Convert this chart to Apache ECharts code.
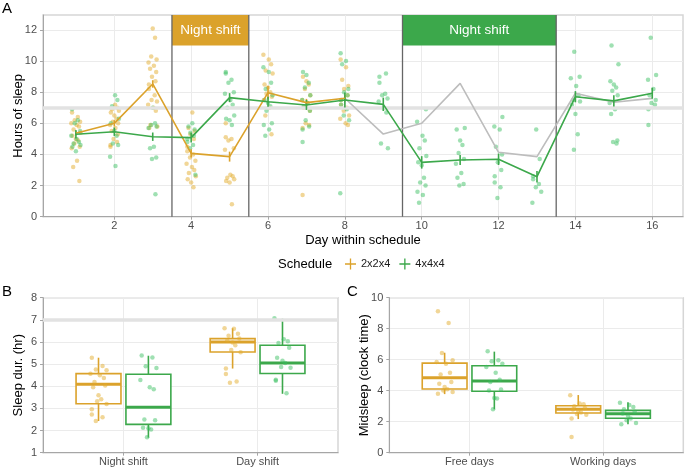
<!DOCTYPE html>
<html><head><meta charset="utf-8">
<script src="https://cdn.jsdelivr.net/npm/echarts@6/dist/echarts.min.js"></script>
<style>html,body{margin:0;padding:0;background:#fff}#c{width:685px;height:468px}</style>
</head><body><div id="c"></div>
<script>
// ---------- DATA ----------
const schedules = ['2x2x4', '4x4x4'];
const days = [1,2,3,4,5,6,7,8,9,10,11,12,13,14,15,16];
const dayTicks = [2,4,6,8,10,12,14,16];
const hourTicks = [0,2,4,6,8,10,12];
// mean hours of sleep per day and standard errors
const mean2x2x4 = [5.36,6.0,8.53,4.07,3.86,7.97,7.33,7.61];
const se2x2x4   = [0.15,0.2,0.24,0.27,0.32,0.43,0.24,0.2];
const mean4x4x4 = [5.3,5.46,5.14,5.08,7.65,7.39,7.18,7.5,7.22,3.49,3.64,3.69,2.57,7.71,7.44,7.93];
const se4x4x4   = [0.27,0.27,0.27,0.32,0.29,0.32,0.32,0.48,0.43,0.4,0.32,0.37,0.37,0.36,0.36,0.35];
// 2x2x4 pattern repeated over days 8..16 (grey reference)
const refDays = [8,9,10,11,12,13,14,15,16];
const ref2x2x4 = [7.61,5.31,6.0,8.57,4.14,3.86,7.93,7.35,7.6];
// night-shift spans [start, end] per schedule
const nightSpans = [[3.5,5.5],[9.5,13.5]];
const nightLabel = 'Night shift';
// individual observations per day
const pts2x2x4 = [
  [6.7,6.4,6.2,6.1,6.0,5.9,5.8,5.6,5.4,5.2,5.0,4.9,4.7,4.5,4.4,3.6,3.2,2.3],
  [7.2,7.0,6.9,6.8,6.7,6.5,6.3,6.1,6.0,5.9,5.7,5.5,5.3,5.0,4.8,4.6,4.5],
  [12.1,11.5,10.3,10.1,9.9,9.7,9.5,9.3,9.0,8.7,8.5,8.2,7.8,7.5,7.4,7.2,7.0,6.8,5.9,5.8,5.7],
  [6.7,5.7,5.5,5.3,5.0,4.5,4.2,4.0,3.8,3.6,3.4,3.2,3.0,2.8,2.6,2.4,2.2,1.9],
  [6.0,5.1,5.0,4.9,4.4,4.3,2.7,2.6,2.5,2.4,2.3,2.2,0.8],
  [10.4,10.1,9.8,9.4,9.2,8.5,8.3,8.0,7.9,7.7,7.5,7.0,6.5,5.3],
  [9.0,8.7,8.5,8.2,7.8,7.5,7.3,7.0,6.8,6.0,5.9,5.7,1.4],
  [10.1,9.6,8.8,8.4,8.2,7.8,7.5,7.2,7.0,6.8,6.5,6.3,6.0,5.9]
];
const pts4x4x4 = [
  [6.9,6.2,6.0,5.5,5.2,5.0,4.8,4.7,4.6,4.5,4.2],
  [7.8,7.5,7.1,6.3,6.0,5.5,5.2,4.7,4.6,3.85,3.25],
  [7.0,6.0,5.9,5.8,5.7,4.5,4.4,3.8,3.7,1.45],
  [6.0,5.8,5.6,5.4,5.2,5.0,4.8,4.6,4.4,2.7],
  [9.3,9.2,8.8,8.6,8.0,7.9,7.5,7.2,7.0,6.5,6.3,6.2,5.9],
  [9.6,9.3,8.6,8.2,7.8,7.5,7.3,7.1,6.8,6.0,5.9,5.6,5.2],
  [9.3,9.1,8.6,8.3,7.8,7.5,7.3,7.1,6.8,6.2,5.8,5.6,4.8],
  [10.5,10.0,9.8,8.2,8.0,7.8,7.5,7.2,6.9,6.5,6.2,1.5],
  [9.2,9.0,8.6,7.9,7.8,7.6,7.4,7.0,6.7,4.7,4.4],
  [6.9,6.1,5.2,4.9,4.4,3.9,3.5,3.3,2.5,2.2,2.0,1.6,1.4,0.9],
  [5.7,5.6,4.9,4.6,4.1,3.7,3.4,2.8,2.5,2.1,2.0],
  [6.4,5.8,5.6,4.5,4.0,3.5,3.0,2.6,2.2,1.9,1.2],
  [5.6,3.7,2.6,2.4,2.1,1.9,1.6,0.9],
  [10.6,9.0,8.9,8.4,7.8,7.5,7.4,7.2,6.6,5.3,4.3],
  [11.0,9.8,8.7,8.5,8.3,8.1,7.8,7.3,6.9,6.6,4.9,4.8,4.7],
  [11.5,9.1,8.8,8.2,7.8,7.5,7.3,7.2,6.9,5.9]
];
// panel B: sleep duration by shift type  [min, q1, median, q3, max]
const catsB = ['Night shift', 'Day shift'];
const durTicks = [1,2,3,4,5,6,7,8];
const boxB2x2x4 = [[2.43,3.21,4.09,4.57,5.29],[4.8,5.55,6.0,6.15,6.62]];
const boxB4x4x4 = [[1.68,2.28,3.05,4.54,5.38],[3.66,4.58,5.05,5.85,7.05]];
const ptsB2x2x4 = [[5.29,4.92,4.76,4.72,4.57,4.5,4.37,4.19,4.04,3.96,3.59,3.41,3.32,3.2,2.96,2.72,2.6,2.43],
                   [6.62,6.6,6.37,6.28,6.16,6.07,5.98,5.85,5.64,5.54,4.8,4.55,4.22,4.16]];
const ptsB4x4x4 = [[5.39,5.3,4.9,4.82,4.28,3.96,3.86,2.5,2.46,2.13,2.1,2.05,1.7],
                   [7.07,6.12,6.03,5.95,5.74,5.29,5.15,5.05,4.87,4.84,4.3,4.25,3.68]];
// panel C: midsleep by day type
const catsC = ['Free days', 'Working days'];
const midTicks = [0,2,4,6,8,10];
const boxC2x2x4 = [[3.78,4.11,4.84,5.78,6.45],[2.17,2.56,2.8,3.03,3.72]];
const boxC4x4x4 = [[2.8,3.96,4.62,5.61,6.52],[1.83,2.22,2.52,2.73,3.25]];
const ptsC2x2x4 = [[9.12,8.37,6.43,5.96,5.85,5.74,5.16,5.05,4.56,4.45,4.24,4.09,4.02,3.92,3.81],
                   [3.7,3.18,3.12,3.0,2.88,2.78,2.7,2.6,2.5,2.45,2.2,1.01]];
const ptsC4x4x4 = [[6.54,5.96,5.9,5.74,5.53,5.16,4.71,4.56,4.07,4.02,3.53,3.49,2.8],
                   [3.22,3.08,2.95,2.8,2.64,2.53,2.38,2.2,2.1,1.92,1.84]];
const sleepTarget = 7;

// ---------- STYLE ----------
const FONT = '"Liberation Sans", Arial, sans-serif';
const ORANGE = '#DBA22B', GREEN = '#3CA84B';
const ORANGE_PT = 'rgba(226,172,45,0.62)', GREEN_PT = 'rgba(55,190,95,0.6)';
const GREY_LINE = '#bdbdbd';
const GRID_C = '#ebebeb';
const TICK_C = '#4d4d4d';
const JA = [-0.1,0.05,-0.03,0.11,-0.12,0.02,0.08,-0.06,0.12,-0.09,0.0,0.06,-0.04,0.1,-0.11,0.03,-0.07,0.09,-0.02,0.07,-0.1];
const JB = [-0.05,0.03,-0.02,0.06,-0.06,0.01,0.04,-0.03,0.05,-0.04,0.0,0.02,-0.01,0.06,-0.05];
const A_YMAX = 12.96, HDR_Y = 11;
const BOX_W = 0.335, DODGE = 0.186;

function valAxis(gi, min, max, extra) {
  return Object.assign({
    type: 'value', gridIndex: gi, min: min, max: max,
    axisLine: {show: true, onZero: false, lineStyle: {color: '#a6a6a6', width: 1}},
    axisTick: {show: true, length: 3, lineStyle: {color: '#a6a6a6'}},
    axisLabel: {color: TICK_C, fontSize: 11, fontFamily: FONT},
    splitLine: {show: true, lineStyle: {color: GRID_C, width: 1}},
    nameTextStyle: {color: '#000', fontSize: 13, fontFamily: FONT},
    nameLocation: 'middle', nameMoveOverlap: false
  }, extra || {});
}
function withCustom(ax, vals, fmt) {
  ax.axisLabel.customValues = vals;
  ax.axisTick.customValues = vals;
  if (fmt) ax.axisLabel.formatter = fmt;
  return ax;
}

const xA = withCustom(valAxis(0, 0.144, 16.8, {name: 'Day within schedule', nameGap: 17}), dayTicks);
xA.axisLabel.margin = 4;
const yA = withCustom(valAxis(0, 0, A_YMAX, {name: 'Hours of sleep', nameGap: 18.5}), hourTicks);
yA.axisLabel.margin = 6;
const xB = withCustom(valAxis(1, 0.4, 2.6), [1,2], v => catsB[Math.round(v) - 1]);
xB.axisLabel.margin = 4;
const yB = withCustom(valAxis(1, 1, 8, {name: 'Sleep dur. (hr)', nameGap: 18.5}), durTicks);
yB.axisLabel.margin = 6;
const xC = withCustom(valAxis(2, 0.4, 2.6), [1,2], v => catsC[Math.round(v) - 1]);
xC.axisLabel.margin = 4;
const yC = withCustom(valAxis(2, 0, 10, {name: 'Midsleep (clock time)', nameGap: 18.8}), midTicks);
yC.axisLabel.margin = 6;

function gridDef(l, t, w, h) {
  return {left: l, top: t, width: w, height: h, show: true, borderColor: '#d6d6d6', borderWidth: 1.5,
          backgroundColor: 'transparent', containLabel: false, outerBoundsMode: 'none'};
}

function jitterA(arr) {
  return arr.flatMap((vals, di) => vals.map((v, j) => [days[di] + JA[(j + di * 5) % JA.length], v]));
}
function jitterBox(arr, off) {
  return arr.flatMap((vals, ci) => vals.map((v, j) => [ci + 1 + off + JB[(j + ci * 4) % JB.length], v]));
}

function bandSeries(gi) {
  return {type: 'line', xAxisIndex: gi, yAxisIndex: gi, data: [], z: 1, silent: true,
    markLine: {silent: true, symbol: 'none', label: {show: false},
      lineStyle: {color: '#e2e2e2', width: 3.5, type: 'solid'}, data: [{yAxis: sleepTarget}]}};
}

function boxSeries(gi, name, boxes, off, color) {
  return {type: 'custom', name: name, xAxisIndex: gi, yAxisIndex: gi, z: 3, silent: true,
    data: boxes.map((b, i) => [i + 1].concat(b)),
    renderItem(params, api) {
      const cx = api.value(0) + off;
      const lo = api.value(1), q1 = api.value(2), md = api.value(3), q3 = api.value(4), hi = api.value(5);
      const tl = api.coord([cx - BOX_W / 2, q3]), br = api.coord([cx + BOX_W / 2, q1]);
      const m = api.coord([cx, md]), t = api.coord([cx, hi]), b = api.coord([cx, lo]);
      const p3 = api.coord([cx, q3]), p1 = api.coord([cx, q1]);
      return {type: 'group', children: [
        {type: 'line', shape: {x1: t[0], y1: t[1], x2: p3[0], y2: p3[1]}, style: {stroke: color, lineWidth: 1.6}},
        {type: 'line', shape: {x1: p1[0], y1: p1[1], x2: b[0], y2: b[1]}, style: {stroke: color, lineWidth: 1.6}},
        {type: 'rect', shape: {x: tl[0], y: tl[1], width: br[0] - tl[0], height: br[1] - tl[1]},
          style: {fill: '#fff', stroke: color, lineWidth: 1.6}},
        {type: 'line', shape: {x1: tl[0], y1: m[1], x2: br[0], y2: m[1]}, style: {stroke: color, lineWidth: 3}}
      ]};
    }};
}

function scatter(gi, name, data, color) {
  return {type: 'scatter', name: name, xAxisIndex: gi, yAxisIndex: gi, data: data, z: 4, silent: true,
    symbolSize: 4.5, itemStyle: {color: color, borderWidth: 0}};
}

function errSeries(name, means, ses, color) {
  return {type: 'custom', name: name + ' se', xAxisIndex: 0, yAxisIndex: 0, z: 6, silent: true,
    data: means.map((m, i) => [days[i], m, ses[i]]),
    renderItem(params, api) {
      const x = api.value(0), m = api.value(1), s = api.value(2);
      const a = api.coord([x, m + s]), b = api.coord([x, m - s]);
      return {type: 'line', shape: {x1: a[0], y1: a[1], x2: b[0], y2: b[1]}, style: {stroke: color, lineWidth: 1.6}};
    }};
}

function lineSeries(name, xs, ys, color, z) {
  return {type: 'line', name: name, xAxisIndex: 0, yAxisIndex: 0, z: z, silent: true, color: color,
    data: ys.map((v, i) => [xs[i], v]), symbol: 'none', lineStyle: {color: color, width: 1.6}};
}

const shiftSeries = {
  type: 'custom', xAxisIndex: 0, yAxisIndex: 0, z: 5, silent: true,
  data: nightSpans.map((s, i) => [s[0], s[1], i]),
  renderItem(params, api) {
    const x0 = api.value(0), x1 = api.value(1), idx = api.value(2);
    const color = idx === 0 ? ORANGE : GREEN;
    const tl = api.coord([x0, A_YMAX]), br = api.coord([x1, HDR_Y]);
    const bot0 = api.coord([x0, 0]), bot1 = api.coord([x1, 0]);
    return {type: 'group', children: [
      {type: 'rect', shape: {x: tl[0], y: tl[1], width: br[0] - tl[0], height: br[1] - tl[1]}, style: {fill: color}},
      {type: 'text', x: (tl[0] + br[0]) / 2, y: (tl[1] + br[1]) / 2,
        style: {text: nightLabel, fill: '#fff', fontSize: 13.5, fontFamily: FONT, align: 'center', verticalAlign: 'middle'}},
      {type: 'line', shape: {x1: tl[0], y1: tl[1], x2: bot0[0], y2: bot0[1]}, style: {stroke: '#666', lineWidth: 1.3}},
      {type: 'line', shape: {x1: br[0], y1: tl[1], x2: bot1[0], y2: bot1[1]}, style: {stroke: '#666', lineWidth: 1.3}}
    ]};
  }
};

const option = {
  animation: false,
  backgroundColor: '#fff',
  textStyle: {fontFamily: FONT},
  grid: [gridDef(43, 15, 640, 201.7), gridDef(43, 297.7, 295, 155), gridDef(389.3, 297.7, 294, 155)],
  xAxis: [xA, xB, xC],
  yAxis: [yA, yB, yC],
  legend: {
    data: schedules, left: 345, top: 258.5, padding: 0, itemWidth: 11, itemHeight: 11, itemGap: 9, selectedMode: false,
    icon: 'path://M0,4.4H10V5.6H0ZM4.4,0H5.6V10H4.4Z',
    textStyle: {fontSize: 11, color: '#1a1a1a', fontFamily: FONT}
  },
  graphic: [
    {type: 'text', left: 278, top: 257.5, style: {text: 'Schedule', fontSize: 13, fill: '#000', fontFamily: FONT}},
    {type: 'text', left: 2, top: 1, style: {text: 'A', fontSize: 15, fill: '#000', fontFamily: FONT}},
    {type: 'text', left: 2, top: 284, style: {text: 'B', fontSize: 15, fill: '#000', fontFamily: FONT}},
    {type: 'text', left: 347, top: 284, style: {text: 'C', fontSize: 15, fill: '#000', fontFamily: FONT}}
  ],
  series: [
    bandSeries(0),
    bandSeries(1),
    scatter(0, 'pts ' + schedules[0], jitterA(pts2x2x4), ORANGE_PT),
    scatter(0, 'pts ' + schedules[1], jitterA(pts4x4x4), GREEN_PT),
    lineSeries('ref', refDays, ref2x2x4, GREY_LINE, 5),
    lineSeries(schedules[0], days.slice(0, mean2x2x4.length), mean2x2x4, ORANGE, 6),
    lineSeries(schedules[1], days, mean4x4x4, GREEN, 6),
    errSeries(schedules[0], mean2x2x4, se2x2x4, ORANGE),
    errSeries(schedules[1], mean4x4x4, se4x4x4, GREEN),
    shiftSeries,
    boxSeries(1, 'bB1', boxB2x2x4, -DODGE, ORANGE),
    boxSeries(1, 'bB2', boxB4x4x4, DODGE, GREEN),
    boxSeries(2, 'bC1', boxC2x2x4, -DODGE, ORANGE),
    boxSeries(2, 'bC2', boxC4x4x4, DODGE, GREEN),
    scatter(1, 'pB1', jitterBox(ptsB2x2x4, -DODGE), ORANGE_PT),
    scatter(1, 'pB2', jitterBox(ptsB4x4x4, DODGE), GREEN_PT),
    scatter(2, 'pC1', jitterBox(ptsC2x2x4, -DODGE), ORANGE_PT),
    scatter(2, 'pC2', jitterBox(ptsC4x4x4, DODGE), GREEN_PT)
  ]
};
const chart = echarts.init(document.getElementById('c'), null, {renderer: 'canvas'});
chart.setOption(option);
</script>
</body></html>
